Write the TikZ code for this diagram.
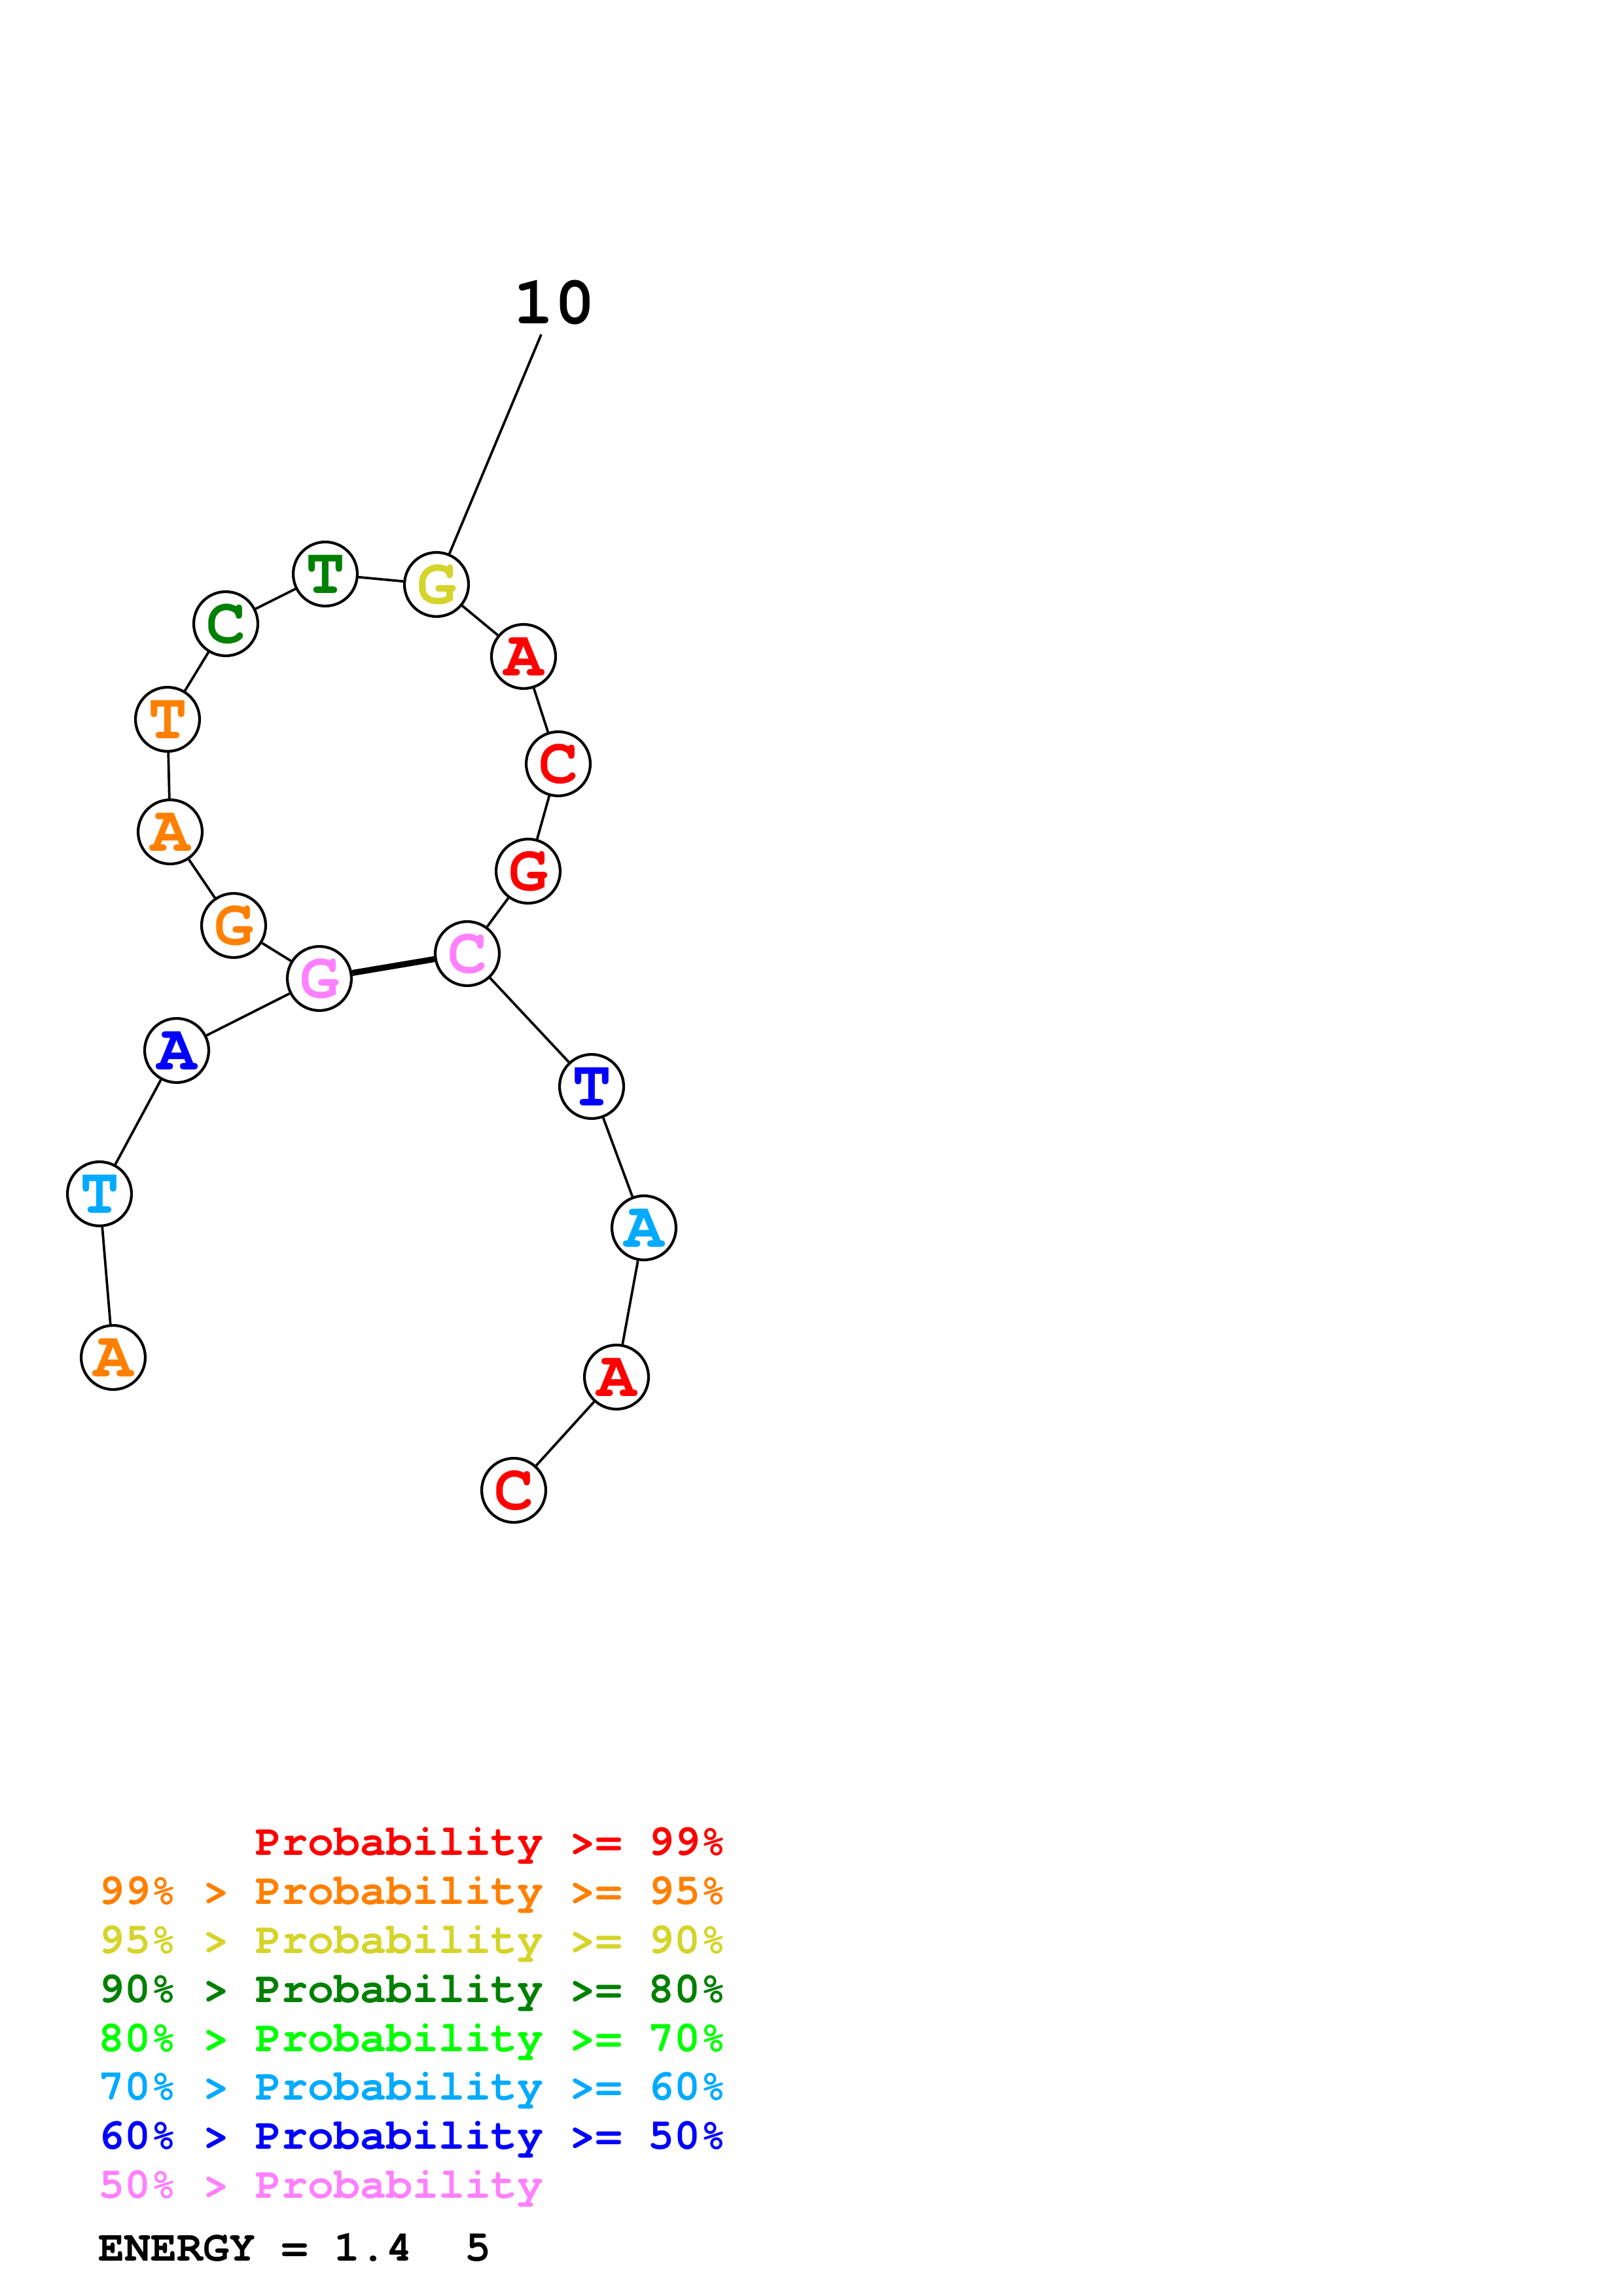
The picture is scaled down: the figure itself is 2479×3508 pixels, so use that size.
\documentclass[tikz,border=0pt]{standalone}
\usepackage{fontspec}
\setmonofont{TeX Gyre Cursor}
\definecolor{pr99}{HTML}{FF0000}
\definecolor{pr95}{HTML}{FF8000}
\definecolor{pr90}{HTML}{D4D42A}
\definecolor{pr80}{HTML}{008000}
\definecolor{pr70}{HTML}{00FF00}
\definecolor{pr60}{HTML}{00AAFF}
\definecolor{pr50}{HTML}{0000FF}
\definecolor{prlo}{HTML}{FF80FF}
\tikzset{
  nt/.style={circle, draw=black, line width=1pt, fill=white, minimum size=23.5pt, inner sep=0pt,
    font=\ttfamily\bfseries\fontsize{24}{24}\selectfont, text=#1},
  bb/.style={line width=0.9pt},
  pairbond/.style={line width=2.2pt},
  leg/.style={anchor=base west, inner sep=0pt, font=\ttfamily\bfseries\fontsize{16}{16}\selectfont, text=#1},
}
\begin{document}
\begin{tikzpicture}[x=0.24pt, y=-0.24pt]
\useasboundingbox (0,0) rectangle (2479,3508);
% nucleotides
\node[nt=pr95] (n1) at (173,2074) {A};
\node[nt=pr60] (n2) at (152,1824) {T};
\node[nt=pr50] (n3) at (270,1605) {A};
\node[nt=prlo] (n4) at (488,1495) {G};
\node[nt=pr95] (n5) at (357,1414) {G};
\node[nt=pr95] (n6) at (260,1271) {A};
\node[nt=pr95] (n7) at (256,1099) {T};
\node[nt=pr80] (n8) at (345,953) {C};
\node[nt=pr80] (n9) at (497,877) {T};
\node[nt=pr90] (n10) at (667,893) {G};
\node[nt=pr99] (n11) at (800,1003) {A};
\node[nt=pr99] (n12) at (853,1167) {C};
\node[nt=pr99] (n13) at (807,1331) {G};
\node[nt=prlo] (n14) at (714,1457) {C};
\node[nt=pr50] (n15) at (904,1660) {T};
\node[nt=pr60] (n16) at (984,1876) {A};
\node[nt=pr99] (n17) at (942,2104) {A};
\node[nt=pr99] (n18) at (785,2277) {C};
% backbone
\foreach \a/\b in {n1/n2,n2/n3,n3/n4,n4/n5,n5/n6,n6/n7,n7/n8,n8/n9,n9/n10,n10/n11,n11/n12,n12/n13,n13/n14,n14/n15,n15/n16,n16/n17,n17/n18}
  \draw[bb] (\a) -- (\b);
% base pair
\draw[pairbond] (n4) -- (n14);
% position label
\node[anchor=base, inner sep=0pt, font=\ttfamily\bfseries\fontsize{25}{25}\selectfont] (lab10) at (847,495) {10};
\coordinate (tick10) at (827,511);
\draw[bb] (tick10) -- (n10);
% legend
\node[leg=pr99] (l1) at (390,2834) {Probability >= 99\%};
\node[leg=pr95] (l2) at (150,2909) {99\% > Probability >= 95\%};
\node[leg=pr90] (l3) at (150,2984) {95\% > Probability >= 90\%};
\node[leg=pr80] (l4) at (150,3059) {90\% > Probability >= 80\%};
\node[leg=pr70] (l5) at (150,3134) {80\% > Probability >= 70\%};
\node[leg=pr60] (l6) at (150,3208) {70\% > Probability >= 60\%};
\node[leg=pr50] (l7) at (150,3283) {60\% > Probability >= 50\%};
\node[leg=prlo] (l8) at (150,3358) {50\% > Probability};
\node[leg=black] (en) at (150,3454) {ENERGY = 1.4\ \ 5};
\end{tikzpicture}
\end{document}
